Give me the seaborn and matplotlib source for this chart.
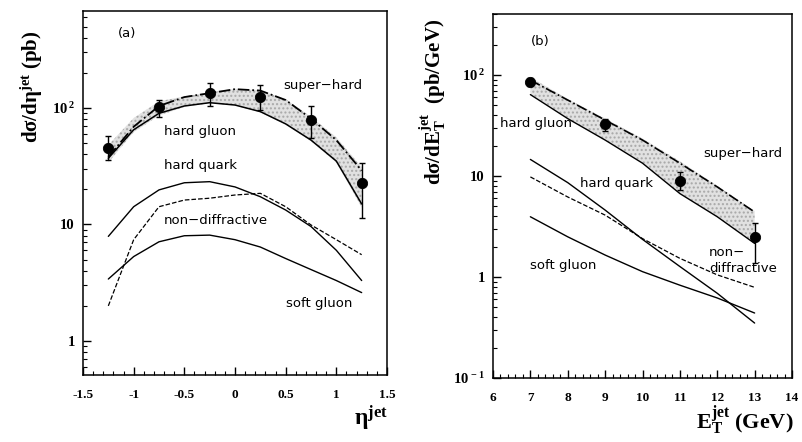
import numpy as np
import pandas as pd
import matplotlib
matplotlib.use("Agg")
import matplotlib.pyplot as plt
from matplotlib.ticker import LogLocator, NullFormatter, MultipleLocator
import seaborn as sns

# ---------------- data: panel (a) ----------------
eta = [-1.25, -1.0, -0.75, -0.5, -0.25, 0.0, 0.25, 0.5, 0.75, 1.0, 1.25]
a_super_hard = [38, 69, 104, 124, 134, 145, 141, 117, 81, 53, 29]
a_hard_gluon = [37, 65, 90, 104, 111, 106, 93, 73, 53, 35, 15]
a_hard_quark = [7.9, 14.2, 19.8, 22.8, 23.3, 21.0, 17.3, 13.3, 9.6, 6.0, 3.3]
a_non_diff = [2.0, 7.4, 14.2, 16.2, 16.8, 17.9, 18.5, 14.2, 9.9, 7.4, 5.5]
a_soft_gluon = [3.4, 5.3, 7.1, 8.0, 8.1, 7.4, 6.4, 5.1, 4.1, 3.3, 2.6]
a_band_hi = [48, 82, 114, 126, 136, 146, 142, 119, 84, 56, 31]
a_band_lo = [34, 62, 86, 102, 110, 105, 92, 72, 52, 34, 14]

a_pt_x = [-1.25, -0.75, -0.25, 0.25, 0.75, 1.25]
a_pt_y = [45.6, 101, 134, 125, 79, 22.6]
a_pt_hi = [57, 117, 165, 157, 104, 34]
a_pt_lo = [36, 84, 103, 96, 55, 11.3]

# ---------------- data: panel (b) ----------------
et = [7, 8, 9, 10, 11, 12, 13]
b_super_hard = [89, 56.5, 35.8, 22.7, 13.4, 7.8, 4.4]
b_hard_gluon = [64, 37, 22.7, 13.4, 6.7, 3.95, 2.15]
b_hard_quark = [14.6, 8.6, 4.6, 2.36, 1.27, 0.69, 0.35]
b_non_diff = [9.8, 6.2, 4.1, 2.4, 1.53, 1.05, 0.79]
b_soft_gluon = [3.95, 2.5, 1.65, 1.13, 0.83, 0.62, 0.44]
b_band_hi = [95, 58, 37, 23.5, 14, 8.0, 4.5]
b_band_lo = [64, 37, 22.7, 13.4, 6.7, 3.95, 2.15]

b_pt_x = [7, 9, 11, 13]
b_pt_y = [86, 32.7, 8.9, 2.47]
b_pt_hi = [93, 37, 11, 3.45]
b_pt_lo = [78, 28, 7.2, 1.37]

a_xticks = [-1.5, -1, -0.5, 0, 0.5, 1, 1.5]
a_xticklabels = ["-1.5", "-1", "-0.5", "0", "0.5", "1", "1.5"]
b_xticks = [6, 7, 8, 9, 10, 11, 12, 13, 14]
b_xticklabels = ["6", "7", "8", "9", "10", "11", "12", "13", "14"]

# ---------------- style ----------------
sns.set_theme(style="ticks")
plt.rcParams["font.family"] = ["DejaVu Sans"]
plt.rcParams["text.color"] = "black"
plt.rcParams["axes.labelcolor"] = "black"
plt.rcParams["xtick.color"] = "black"
plt.rcParams["ytick.color"] = "black"
plt.rcParams["mathtext.fontset"] = "custom"
plt.rcParams["mathtext.rm"] = "Liberation Serif:bold"
plt.rcParams["mathtext.bf"] = "Liberation Serif:bold"
plt.rcParams["mathtext.it"] = "Liberation Serif:italic:bold"

serif_bold = dict(family="Liberation Serif", weight="bold")

fig = plt.figure(figsize=(8.02, 4.42), dpi=100)
axA = fig.add_axes([83 / 802, 1 - 375 / 442, 304 / 802, 364 / 442])
axB = fig.add_axes([493 / 802, 1 - 378 / 442, 299 / 802, 364 / 442])


def draw_panel(ax, x, curves, band_lo, band_hi, px, py, plo, phi):
    ax.fill_between(x, band_lo, band_hi, facecolor="#d8d8d8", edgecolor="#9a9a9a",
                    hatch="....", linewidth=0, alpha=0.75, zorder=1)
    for vals, ls, lw in curves:
        sns.lineplot(x=x, y=vals, ax=ax, color="black", linestyle=ls, linewidth=lw,
                     estimator=None, sort=False, zorder=3)
    py = np.array(py)
    yerr = np.vstack([py - np.array(plo), np.array(phi) - py])
    ax.errorbar(px, py, yerr=yerr, fmt="none", ecolor="black", elinewidth=1.0,
                capsize=2.5, capthick=1.0, zorder=4)
    sns.scatterplot(x=px, y=py, ax=ax, color="black", s=55, edgecolor="black",
                    zorder=5)


draw_panel(axA, eta,
           [(a_super_hard, "-.", 1.3), (a_hard_gluon, "-", 1.1), (a_hard_quark, "-", 1.0),
            (a_non_diff, "--", 0.9), (a_soft_gluon, "-", 1.0)],
           a_band_lo, a_band_hi, a_pt_x, a_pt_y, a_pt_lo, a_pt_hi)
draw_panel(axB, et,
           [(b_super_hard, "-.", 1.2), (b_hard_gluon, "-", 1.0), (b_hard_quark, "-", 1.0),
            (b_non_diff, "--", 0.9), (b_soft_gluon, "-", 1.0)],
           b_band_lo, b_band_hi, b_pt_x, b_pt_y, b_pt_lo, b_pt_hi)

for ax in (axA, axB):
    ax.set_yscale("log")
    for s in ax.spines.values():
        s.set_linewidth(1.1)
        s.set_color("black")
    ax.tick_params(which="both", direction="in", top=False, right=False, colors="black")
    ax.tick_params(which="major", length=6, width=1.0)
    ax.tick_params(which="minor", length=3, width=0.8)
    ax.yaxis.set_minor_locator(LogLocator(base=10, subs=np.arange(2, 10)))
    ax.yaxis.set_minor_formatter(NullFormatter())
    ax.set_xlabel("")
    ax.set_ylabel("")

# panel (a) axes
axA.set_xlim(-1.5, 1.5)
axA.set_ylim(0.51, 680)
axA.set_xticks(a_xticks)
axA.set_xticklabels(a_xticklabels, fontdict=dict(size=9.5, **serif_bold))
axA.xaxis.set_minor_locator(MultipleLocator(0.1))
axA.set_yticks([1, 10, 100])
axA.set_yticklabels(["1", "10", r"$\mathbf{10^{\,2}}$"], fontdict=dict(size=10.5, **serif_bold))
axA.tick_params(axis="x", pad=10)
axA.tick_params(axis="y", pad=6)

# panel (b) axes
axB.set_xlim(6, 14)
axB.set_ylim(0.1, 402)
axB.set_xticks(b_xticks)
axB.set_xticklabels(b_xticklabels, fontdict=dict(size=9.5, **serif_bold))
axB.xaxis.set_minor_locator(MultipleLocator(0.2))
axB.set_yticks([0.1, 1, 10, 100])
axB.set_yticklabels([r"$\mathbf{10^{\,-1}}$", "1", "10", r"$\mathbf{10^{\,2}}$"],
                    fontdict=dict(size=10.5, **serif_bold))
axB.tick_params(axis="x", pad=10)
axB.tick_params(axis="y", pad=6)
for lbl in axA.get_yticklabels() + axB.get_yticklabels():
    lbl.set_fontsize(10.5)

# axis titles
fig.text(32 / 802, 1 - 87 / 442, r"$\mathbf{d\sigma/d\eta^{jet}}$ (pb)", rotation=90,
         ha="center", va="center", fontsize=15, **serif_bold)
fig.text(433 / 802, 1 - 102 / 442, r"$\mathbf{d\sigma/dE_T^{jet}}$  (pb/GeV)", rotation=90,
         ha="center", va="center", fontsize=15, **serif_bold)
fig.text(388 / 802, 1 - 418 / 442, r"$\mathbf{\eta^{jet}}$", ha="right", va="center",
         fontsize=17, **serif_bold)
fig.text(794 / 802, 1 - 420 / 442, r"$\mathbf{E_T^{jet}}$ (GeV)", ha="right", va="center",
         fontsize=16, **serif_bold)

# in-plot annotations
tk = dict(fontsize=9.5, color="black", family="DejaVu Sans", va="center", ha="left")
fig.text(118 / 802, 1 - 33 / 442, "(a)", **tk)
for txt, x, y in [("super\u2212hard", 283, 86), ("hard gluon", 164, 131),
                  ("hard quark", 164, 165), ("non\u2212diffractive", 164, 221),
                  ("soft gluon", 286, 303)]:
    fig.text(x / 802, 1 - y / 442, txt, **tk)
fig.text(531 / 802, 1 - 42 / 442, "(b)", **tk)
for txt, x, y in [("hard gluon", 500, 124), ("super\u2212hard", 703, 154),
                  ("hard quark", 580, 183), ("non\u2212", 709, 253),
                  ("diffractive", 709, 268), ("soft gluon", 530, 266)]:
    fig.text(x / 802, 1 - y / 442, txt, **tk)

fig.savefig("out.png", dpi=100, facecolor="white")
